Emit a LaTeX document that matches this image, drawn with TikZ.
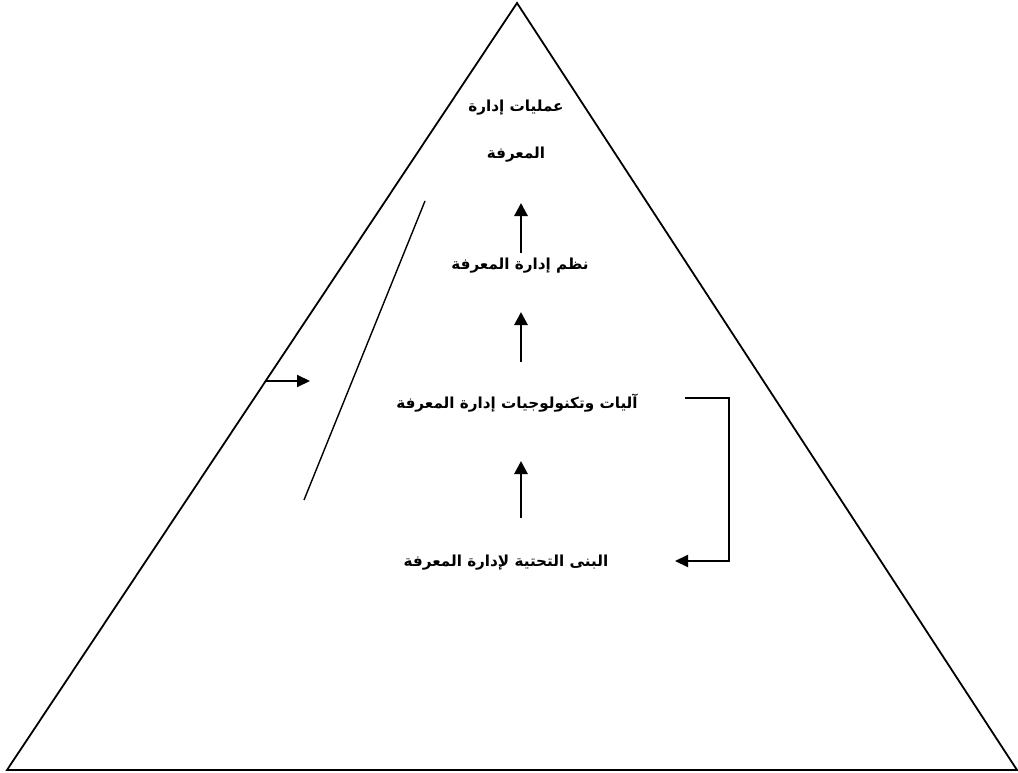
\documentclass[tikz,border=0pt]{standalone}
\usepackage{fontspec}
\usetikzlibrary{arrows.meta}
\TeXXeTstate=1
\newfontfamily\arabicfont[Script=Arabic]{DejaVu Sans}
\begin{document}
\begin{tikzpicture}[x=1pt,y=-1pt,
  label/.style={font=\arabicfont\bfseries\fontsize{15.2}{18}\selectfont, inner sep=0pt, anchor=center},
  uparrow/.style={line width=2.8pt, -{Triangle[length=13pt,width=13pt]}},
  sidearrow/.style={line width=2.1pt, -{Triangle[length=13pt,width=12pt]}},
  thinline/.style={line width=1.4pt}]
\useasboundingbox (0,0) rectangle (1018,773);
% pyramid outline
\coordinate (apex) at (517,3);
\coordinate (bl) at (7,770);
\coordinate (br) at (1017,770);
\draw[line width=1.8pt, line join=miter] (bl) -- (apex) -- (br) -- cycle;

% levels
\node[label] (top1) at (516,108) {\beginR عمليات إدارة\endR};
\node[label] (top2) at (516,155) {\beginR المعرفة\endR};
\node[label] (sys) at (520,266) {\beginR نظم إدارة المعرفة\endR};
\node[label] (tech) at (517,403) {\beginR آليات وتكنولوجيات إدارة المعرفة\endR};
\node[label] (infra) at (506,563) {\beginR البنى التحتية لإدارة المعرفة\endR};

% upward arrows between the levels
\coordinate (a1s) at (521,253); \coordinate (a1e) at (521,203);
\coordinate (a2s) at (521,362); \coordinate (a2e) at (521,312);
\coordinate (a3s) at (521,518); \coordinate (a3e) at (521,461);
\draw[uparrow] (a1s) -- (a1e);
\draw[uparrow] (a2s) -- (a2e);
\draw[uparrow] (a3s) -- (a3e);

% feedback bracket from technologies back to infrastructure
\coordinate (b1) at (685,398);
\coordinate (b2) at (729,398);
\coordinate (b3) at (729,561);
\coordinate (b4) at (675,561);
\draw[sidearrow, line join=miter] (b1) -- (b2) -- (b3) -- (b4);

% slanted line and side arrow on the left
\coordinate (s1) at (425,201);
\coordinate (s2) at (304,500);
\draw[thinline] (s1) -- (s2);
\coordinate (l1) at (266,381);
\coordinate (l2) at (310,381);
\draw[sidearrow] (l1) -- (l2);
\end{tikzpicture}
\end{document}
